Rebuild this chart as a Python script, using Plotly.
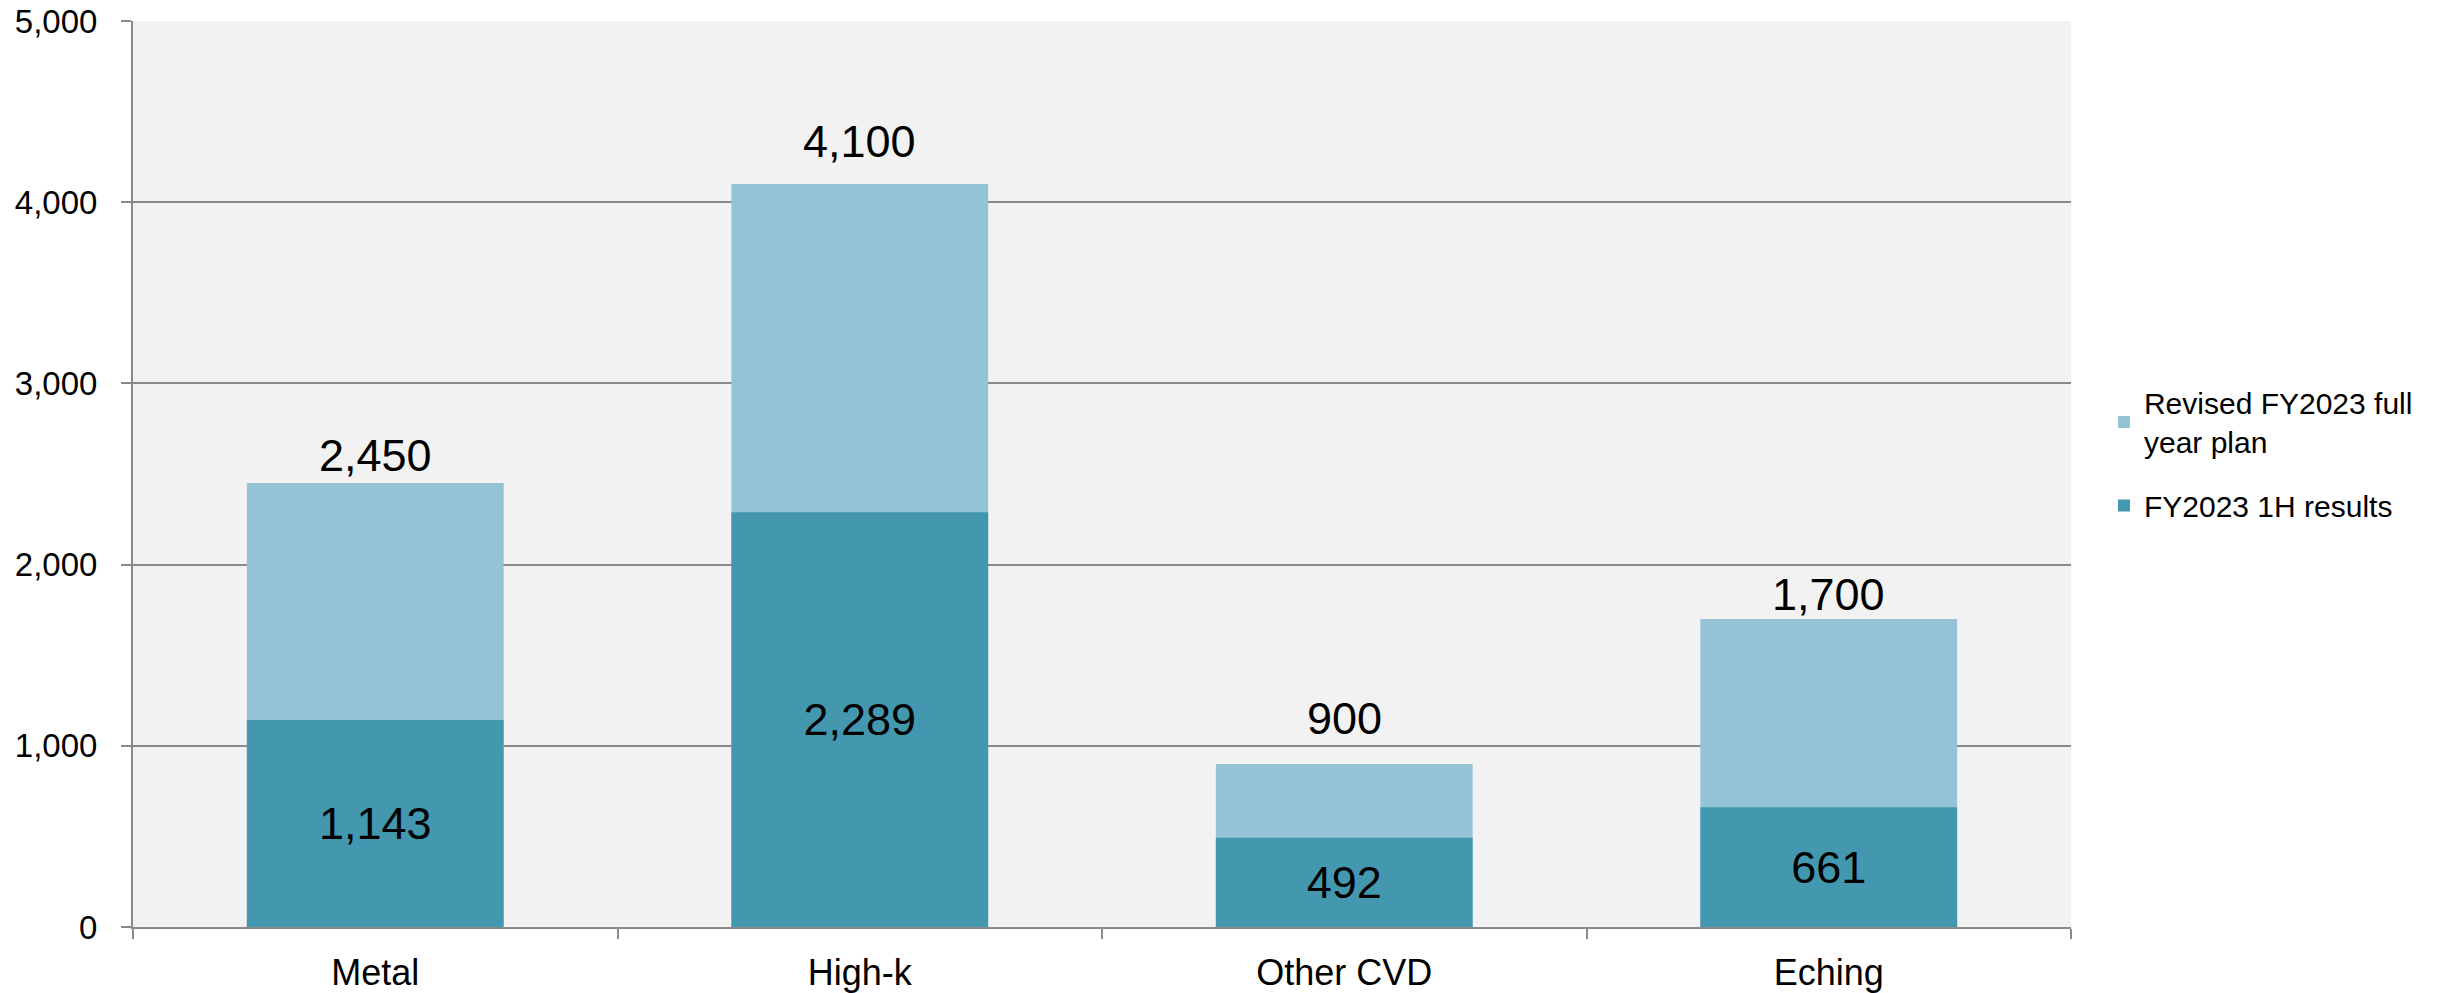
import plotly.graph_objects as go

# Chart data
categories = ["Metal", "High-k", "Other CVD", "Eching"]
full_year_plan = [2450, 4100, 900, 1700]
first_half_results = [1143, 2289, 492, 661]

plan_name = "Revised FY2023 full<br>year plan"
results_name = "FY2023 1H results"

# Pixel lift of each total label above the top of its bar
total_label_lift = [0, 15, 18, -3]

LIGHT = "#93C3D5"
DARK = "#4398B0"
GRID = "#8A8A8A"
FONT = "Liberation Sans, Arial, Helvetica, sans-serif"

fig = go.Figure()

# Full-year plan drawn first so the first-half results sit on top of it
fig.add_trace(go.Bar(
    x=categories,
    y=full_year_plan,
    name=plan_name,
    legendgroup="plan",
    marker=dict(color=LIGHT, line=dict(width=0)),
    width=0.53,
    hoverinfo="skip",
))

fig.add_trace(go.Bar(
    x=categories,
    y=first_half_results,
    name=results_name,
    legendgroup="results",
    marker=dict(color=DARK, line=dict(width=0)),
    width=0.53,
    text=[f"{v:,}" for v in first_half_results],
    textposition="inside",
    insidetextanchor="middle",
    textfont=dict(size=45, color="#000000", family=FONT),
    hoverinfo="skip",
))

# Totals written above the plan bars
for cat, total, lift in zip(categories, full_year_plan, total_label_lift):
    fig.add_annotation(
        x=cat,
        y=total,
        text=f"{total:,}",
        showarrow=False,
        yanchor="bottom",
        yshift=lift,
        font=dict(size=45, color="#000000", family=FONT),
    )

fig.update_layout(
    width=2445,
    height=993,
    barmode="overlay",
    paper_bgcolor="#FFFFFF",
    plot_bgcolor="#F2F2F2",
    margin=dict(l=133, r=374, t=21, b=66, autoexpand=False),
    font=dict(family=FONT, color="#000000"),
    uniformtext=dict(minsize=45, mode="show"),
    showlegend=True,
    legend=dict(
        x=1.017,
        xanchor="left",
        y=0.522,
        yanchor="middle",
        font=dict(size=30, color="#000000", family=FONT),
        bgcolor="rgba(0,0,0,0)",
        borderwidth=0,
        tracegroupgap=22,
        traceorder="grouped",
        itemwidth=30,
    ),
)

fig.update_xaxes(
    type="category",
    showgrid=False,
    showline=True,
    linecolor=GRID,
    linewidth=2,
    ticks="outside",
    tickson="boundaries",
    ticklen=10,
    tickwidth=2,
    tickcolor=GRID,
    tickfont=dict(size=36, color="#000000", family=FONT),
    ticklabelstandoff=13,
    zeroline=False,
    fixedrange=True,
)

fig.update_yaxes(
    range=[0, 5000],
    dtick=1000,
    tickformat=",",
    showgrid=True,
    gridcolor=GRID,
    gridwidth=2,
    showline=True,
    linecolor=GRID,
    linewidth=2,
    ticks="outside",
    ticklen=10,
    tickwidth=2,
    tickcolor=GRID,
    tickfont=dict(size=33, color="#000000", family=FONT),
    ticklabelstandoff=17,
    zeroline=False,
    fixedrange=True,
)

fig.write_html("out.html", config={"displayModeBar": False})
